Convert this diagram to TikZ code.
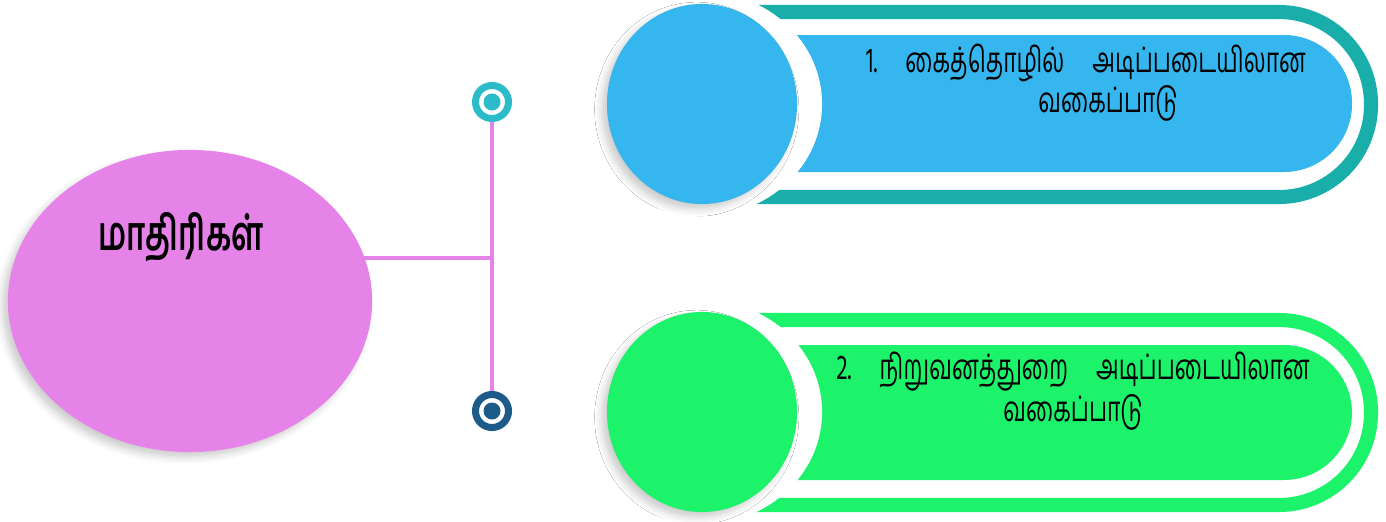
\documentclass[tikz,border=0pt]{standalone}
\usepackage{fontspec}
\newfontfamily\tamilfont[Script=Tamil, FakeStretch=0.65]{Hind Madurai}
\usetikzlibrary{shapes.geometric,shadows.blur}
\definecolor{modelPink}{RGB}{230,131,232}
\definecolor{modelBlue}{RGB}{53,182,238}
\definecolor{modelTeal}{RGB}{26,174,170}
\definecolor{modelGreen}{RGB}{29,242,107}
\definecolor{dotTeal}{RGB}{43,187,201}
\definecolor{dotNavy}{RGB}{29,91,138}

\begin{document}
\begin{tikzpicture}[x=0.01cm, y=-0.01cm, font=\tamilfont,
	link/.style={draw=modelPink, line width=1.4pt},
	blob/.style={ellipse, inner sep=0pt, blur shadow={shadow xshift=-1.5pt, shadow yshift=-1.5pt, shadow blur radius=2pt, shadow opacity=20}},
	ring/.style={circle, draw=#1, fill=white, line width=2pt, minimum size=0.33cm, inner sep=0pt,
		path picture={\fill[#1] (path picture bounding box.center) circle (0.085cm);}},
	label/.style={align=center, font=\tamilfont\fontsize{10}{10.2}\selectfont}]
	\useasboundingbox (0,0) rectangle (1386,521);
	
	% Main set
	\node[blob, fill=modelPink, minimum width=3.64cm, minimum height=3.02cm] (main) at (190,301) {};
	\node[font=\tamilfont\bfseries\fontsize{13.5}{15}\selectfont] (title) at (181,237) {மாதிரிகள்};
	
	% Connector
	\coordinate (junc) at (492,258);
	\node[ring=dotTeal] (topdot) at (492,102) {};
	\node[ring=dotNavy] (botdot) at (492,411) {};
	\draw[link] (topdot) -- (botdot);
	\draw[link] (junc) -- ([xshift=-0.1cm]main.east |- junc);
	
	% First type
	\draw[modelTeal, line width=4pt, rounded corners=0.92cm] (740,12) -- (1371,12) -- (1371,197) -- (740,197);
	\fill[modelBlue, rounded corners=0.68cm] (700,35) -- (1352,35) -- (1352,172) -- (700,172) -- cycle;
	\fill[white] (702,104) ellipse [x radius=1.2cm, y radius=1.12cm];
	\node[blob, fill=modelBlue, minimum width=1.9cm, minimum height=2cm] (craft) at (702,104) {};
	\node[label] (crafttext) at (1086,83) {1.\hspace{0.8em}கைத்தொழில்\hspace{0.8em}அடிப்படையிலான\\\hspace*{0.44cm}வகைப்பாடு};
	
	% Second type
	\draw[modelGreen, line width=4pt, rounded corners=0.92cm] (740,320) -- (1371,320) -- (1371,505) -- (740,505);
	\fill[modelGreen, rounded corners=0.68cm] (700,345) -- (1352,345) -- (1352,480) -- (700,480) -- cycle;
	\fill[white] (702,412) ellipse [x radius=1.2cm, y radius=1.12cm];
	\node[blob, fill=modelGreen, minimum width=1.9cm, minimum height=2cm] (firm) at (702,412) {};
	\node[label] (firmtext) at (1073,391) {2.\hspace{0.8em}நிறுவனத்துறை\hspace{0.8em}அடிப்படையிலான\\வகைப்பாடு};
\end{tikzpicture}
\end{document}
